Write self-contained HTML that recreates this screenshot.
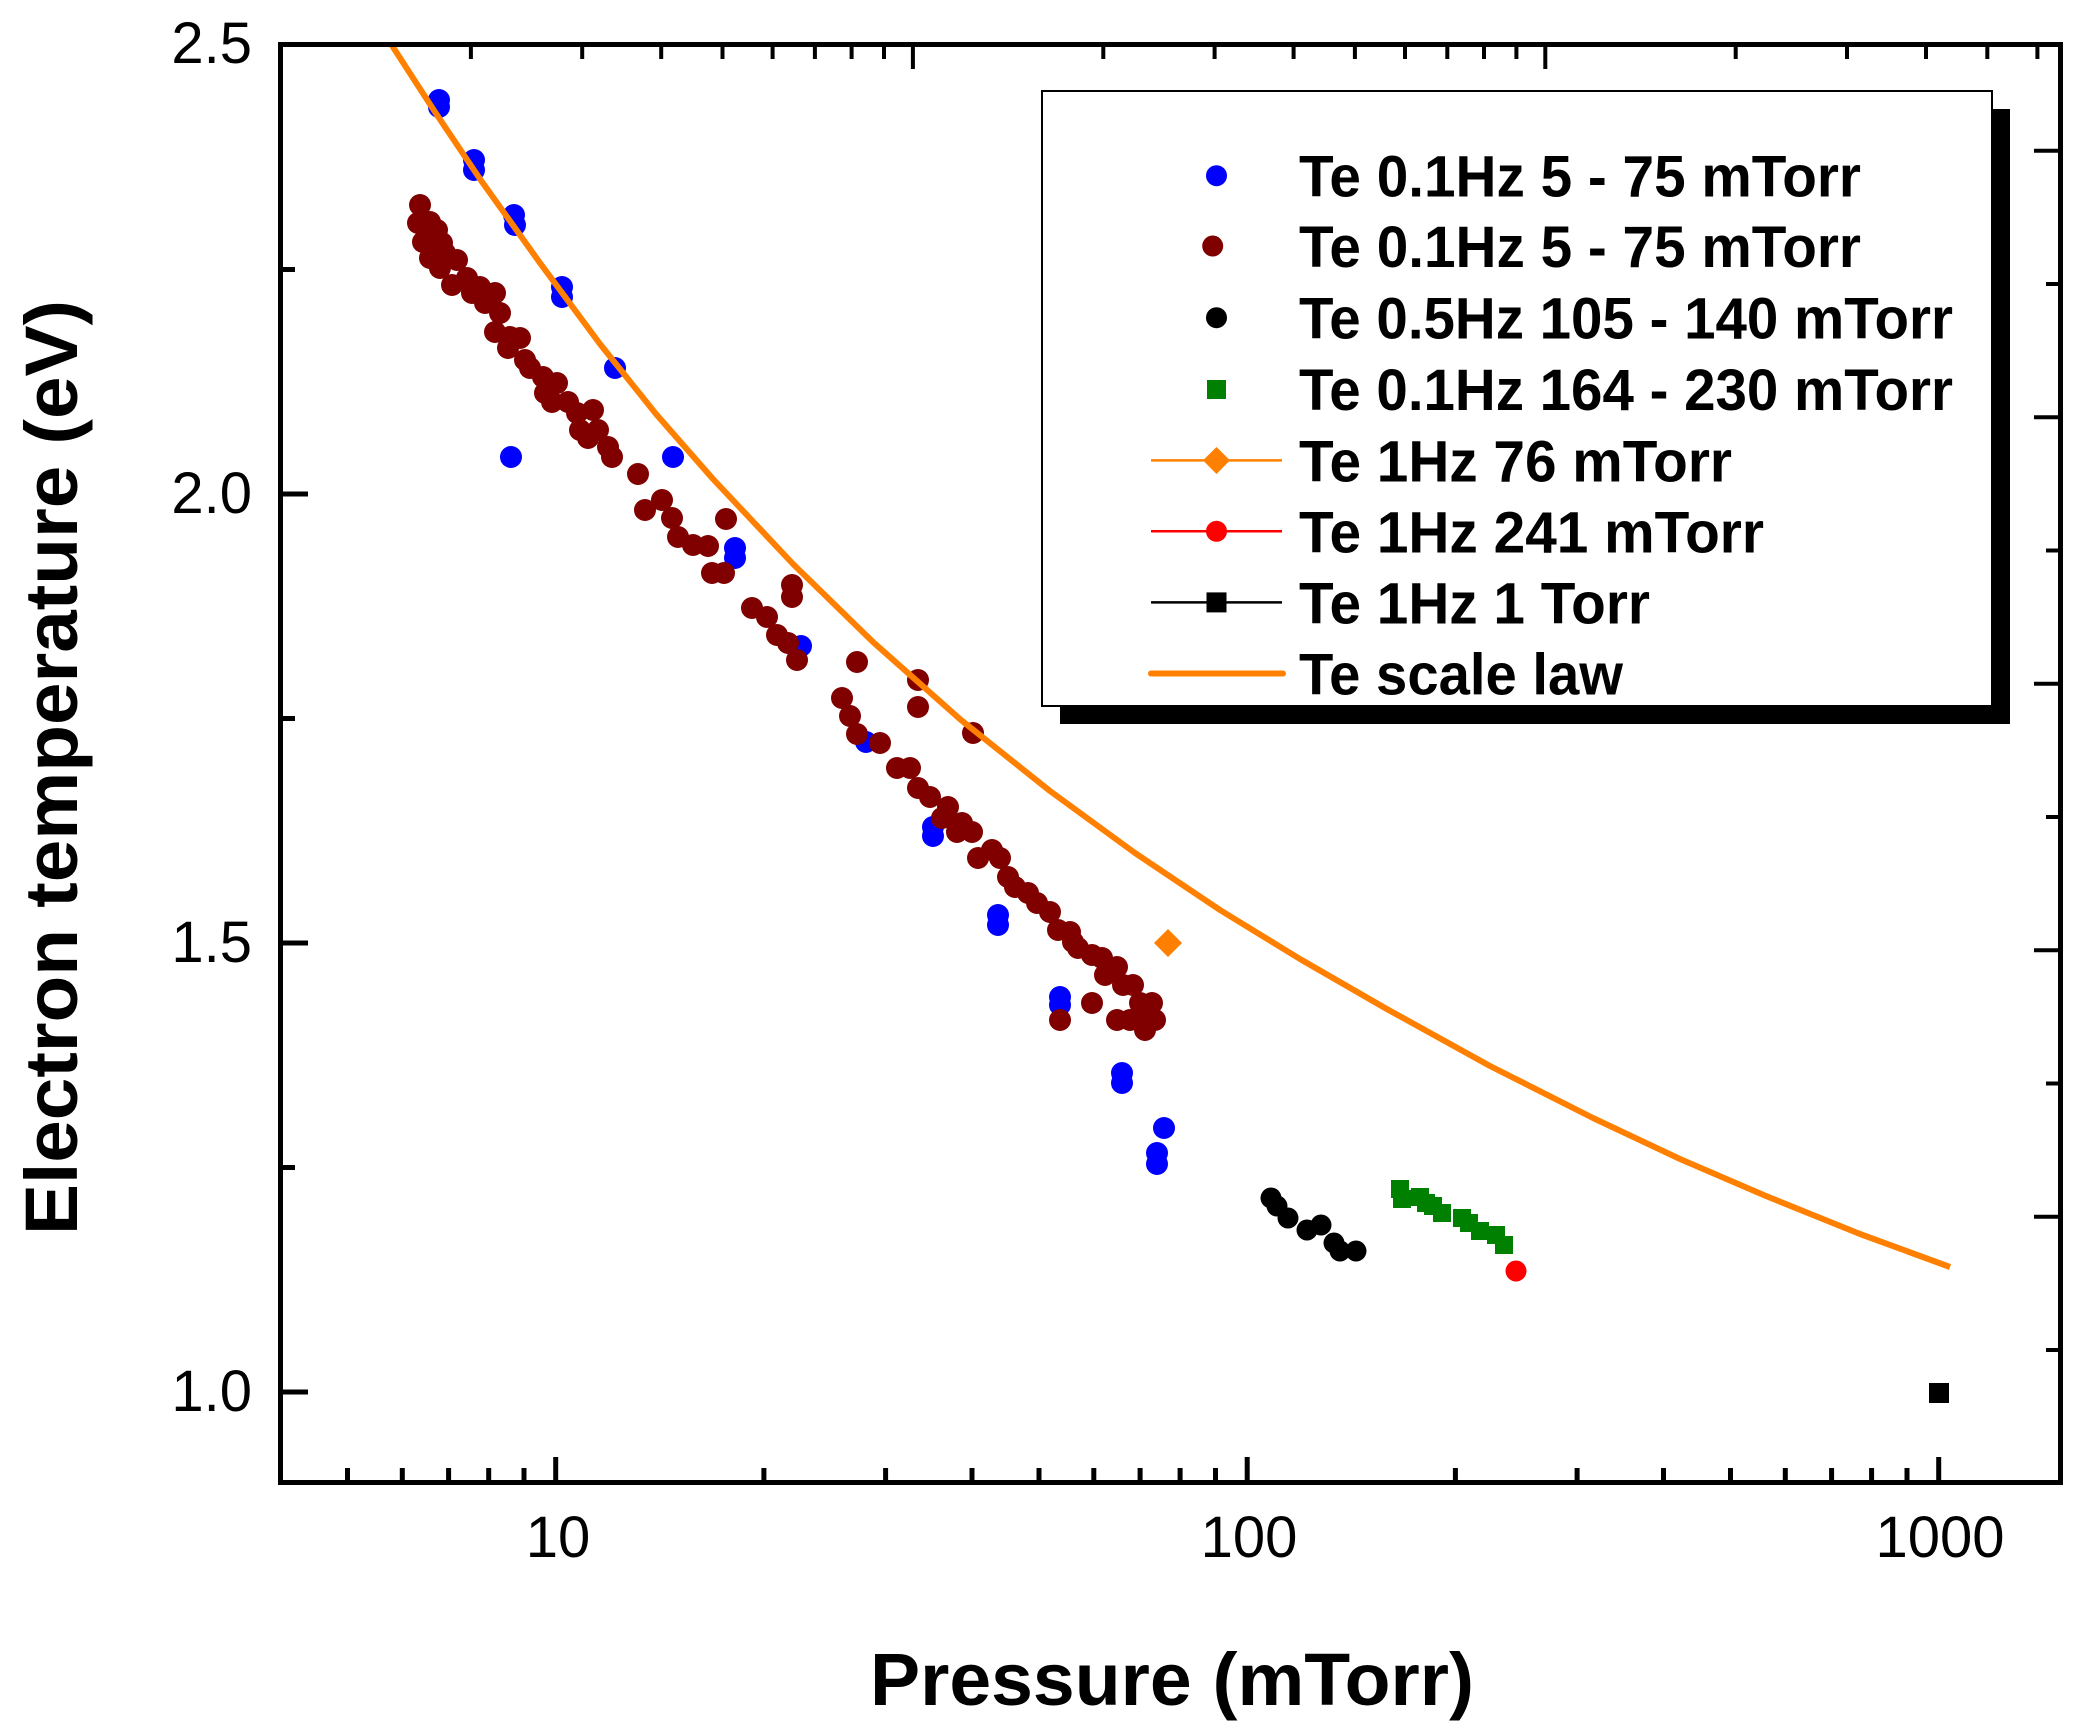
<!DOCTYPE html>
<html>
<head>
<meta charset="utf-8">
<style>
html,body{margin:0;padding:0;background:#fff;}
svg{display:block;}
text{font-family:"Liberation Sans",Arial,sans-serif;}
</style>
</head>
<body>
<svg width="2084" height="1735" viewBox="0 0 2084 1735" xmlns="http://www.w3.org/2000/svg">
<rect x="0" y="0" width="2084" height="1735" fill="#fff"/>

<!-- Blue points -->
<g fill="#0000FF">
<circle cx="439" cy="100" r="11"/><circle cx="439" cy="107" r="11"/>
<circle cx="474" cy="160" r="11"/><circle cx="474" cy="170" r="11"/>
<circle cx="514" cy="215" r="11"/><circle cx="515" cy="225" r="11"/>
<circle cx="562" cy="287" r="11"/><circle cx="562" cy="297" r="11"/>
<circle cx="615" cy="368" r="11"/>
<circle cx="511" cy="457" r="11"/>
<circle cx="673" cy="457" r="11"/>
<circle cx="735" cy="548" r="11"/><circle cx="735" cy="558" r="11"/>
<circle cx="801" cy="646" r="11"/>
<circle cx="866" cy="742" r="11"/>
<circle cx="933" cy="827" r="11"/><circle cx="933" cy="836" r="11"/>
<circle cx="998" cy="915" r="11"/><circle cx="998" cy="925" r="11"/>
<circle cx="1060" cy="997" r="11"/><circle cx="1060" cy="1005" r="11"/>
<circle cx="1122" cy="1073" r="11"/><circle cx="1122" cy="1083" r="11"/>
<circle cx="1157" cy="1153" r="11"/><circle cx="1157" cy="1164" r="11"/>
<circle cx="1164" cy="1128" r="11"/>
</g>

<!-- Dark red points -->
<g fill="#800000">
<circle cx="420" cy="205" r="11"/><circle cx="418" cy="223" r="11"/><circle cx="430" cy="222" r="11"/>
<circle cx="423" cy="242" r="11"/><circle cx="437" cy="230" r="11"/><circle cx="442" cy="243" r="11"/>
<circle cx="430" cy="258" r="11"/><circle cx="445" cy="253" r="11"/><circle cx="440" cy="268" r="11"/>
<circle cx="457" cy="260" r="11"/><circle cx="452" cy="285" r="11"/><circle cx="467" cy="278" r="11"/>
<circle cx="472" cy="293" r="11"/><circle cx="480" cy="287" r="11"/><circle cx="495" cy="293" r="11"/>
<circle cx="485" cy="303" r="11"/><circle cx="500" cy="313" r="11"/><circle cx="495" cy="332" r="11"/>
<circle cx="510" cy="337" r="11"/><circle cx="520" cy="338" r="11"/><circle cx="508" cy="348" r="11"/>
<circle cx="525" cy="360" r="11"/><circle cx="530" cy="368" r="11"/><circle cx="543" cy="377" r="11"/>
<circle cx="557" cy="383" r="11"/><circle cx="545" cy="393" r="11"/><circle cx="552" cy="402" r="11"/>
<circle cx="568" cy="402" r="11"/><circle cx="577" cy="413" r="11"/><circle cx="593" cy="410" r="11"/>
<circle cx="580" cy="430" r="11"/><circle cx="598" cy="430" r="11"/><circle cx="588" cy="438" r="11"/>
<circle cx="608" cy="447" r="11"/><circle cx="612" cy="457" r="11"/><circle cx="638" cy="474" r="11"/>
<circle cx="662" cy="500" r="11"/><circle cx="645" cy="510" r="11"/><circle cx="672" cy="518" r="11"/>
<circle cx="678" cy="537" r="11"/><circle cx="693" cy="545" r="11"/><circle cx="708" cy="546" r="11"/>
<circle cx="712" cy="573" r="11"/><circle cx="724" cy="573" r="11"/><circle cx="726" cy="519" r="11"/>
<circle cx="752" cy="608" r="11"/><circle cx="767" cy="617" r="11"/><circle cx="777" cy="635" r="11"/>
<circle cx="792" cy="585" r="11"/><circle cx="792" cy="597" r="11"/><circle cx="788" cy="643" r="11"/>
<circle cx="797" cy="660" r="11"/><circle cx="857" cy="662" r="11"/>
<circle cx="918" cy="680" r="11"/><circle cx="918" cy="707" r="11"/><circle cx="842" cy="698" r="11"/>
<circle cx="850" cy="716" r="11"/><circle cx="857" cy="734" r="11"/><circle cx="880" cy="743" r="11"/>
<circle cx="973" cy="733" r="11"/><circle cx="897" cy="768" r="11"/><circle cx="910" cy="768" r="11"/>
<circle cx="918" cy="788" r="11"/><circle cx="930" cy="797" r="11"/><circle cx="948" cy="807" r="11"/>
<circle cx="942" cy="818" r="11"/><circle cx="962" cy="823" r="11"/><circle cx="957" cy="832" r="11"/>
<circle cx="972" cy="832" r="11"/><circle cx="978" cy="858" r="11"/><circle cx="992" cy="850" r="11"/>
<circle cx="1000" cy="858" r="11"/><circle cx="1008" cy="877" r="11"/><circle cx="1015" cy="887" r="11"/>
<circle cx="1028" cy="893" r="11"/><circle cx="1037" cy="903" r="11"/><circle cx="1050" cy="912" r="11"/>
<circle cx="1058" cy="930" r="11"/><circle cx="1070" cy="932" r="11"/><circle cx="1073" cy="942" r="11"/>
<circle cx="1078" cy="948" r="11"/><circle cx="1092" cy="955" r="11"/><circle cx="1102" cy="958" r="11"/>
<circle cx="1105" cy="975" r="11"/><circle cx="1117" cy="967" r="11"/><circle cx="1123" cy="985" r="11"/>
<circle cx="1133" cy="985" r="11"/><circle cx="1092" cy="1003" r="11"/><circle cx="1060" cy="1020" r="11"/>
<circle cx="1117" cy="1020" r="11"/><circle cx="1140" cy="1003" r="11"/><circle cx="1152" cy="1003" r="11"/>
<circle cx="1155" cy="1020" r="11"/><circle cx="1145" cy="1030" r="11"/><circle cx="1147" cy="1013" r="11"/>
<circle cx="1130" cy="1020" r="11"/>
</g>

<!-- Black circles (0.5 Hz) -->
<g fill="#000">
<circle cx="1271" cy="1198" r="10.5"/><circle cx="1277" cy="1206" r="10.5"/><circle cx="1288" cy="1218" r="10.5"/>
<circle cx="1307" cy="1230" r="10.5"/><circle cx="1321" cy="1225" r="10.5"/><circle cx="1334" cy="1243" r="10.5"/>
<circle cx="1340" cy="1251" r="10.5"/><circle cx="1356" cy="1251" r="10.5"/>
</g>

<!-- Green squares -->
<g fill="#008000">
<rect x="1391" y="1180" width="18" height="18"/><rect x="1393" y="1190" width="18" height="18"/>
<rect x="1411" y="1188" width="18" height="18"/><rect x="1417" y="1194" width="18" height="18"/>
<rect x="1424" y="1197" width="18" height="18"/><rect x="1433" y="1204" width="18" height="18"/>
<rect x="1453" y="1209" width="18" height="18"/><rect x="1460" y="1214" width="18" height="18"/>
<rect x="1471" y="1222" width="18" height="18"/><rect x="1487" y="1226" width="18" height="18"/>
<rect x="1495" y="1236" width="18" height="18"/>
</g>

<!-- Red circle 241 mTorr -->
<circle cx="1516" cy="1271" r="10.5" fill="#FF0000"/>
<!-- Orange diamond 76 mTorr -->
<polygon points="1168,929 1182,943 1168,957 1154,943" fill="#FF8000"/>
<!-- Black square 1 Torr -->
<rect x="1929" y="1383" width="20" height="20" fill="#000"/>

<!-- Te scale law -->
<polyline fill="none" stroke="#FF8000" stroke-width="6" stroke-linejoin="round"
points="391,44 435,112 480,179 540,263 600,344 656,414 713,479 793,564 873,642 961,720 1050,791 1135,853 1220,910 1300,959 1385,1008 1490,1066 1593,1118 1680,1159 1766,1196 1860,1234 1950,1267"/>

<!-- Legend shadow and box -->
<rect x="1060" y="109" width="950" height="615" fill="#000"/>
<rect x="1042" y="91" width="950" height="615" fill="#fff" stroke="#000" stroke-width="2"/>

<!-- Legend symbols -->
<circle cx="1216.5" cy="175.7" r="10.5" fill="#0000FF"/>
<circle cx="1212.7" cy="246" r="10.5" fill="#800000"/>
<circle cx="1216.5" cy="317.7" r="10.5" fill="#000"/>
<rect x="1207" y="380" width="19" height="19" fill="#008000"/>
<line x1="1151" y1="460.4" x2="1282" y2="460.4" stroke="#FF8000" stroke-width="2.5"/>
<polygon points="1216.5,447 1230,460.4 1216.5,474 1203,460.4" fill="#FF8000"/>
<line x1="1151" y1="531.3" x2="1282" y2="531.3" stroke="#FF0000" stroke-width="2.5"/>
<circle cx="1216.5" cy="531.3" r="10.5" fill="#FF0000"/>
<line x1="1151" y1="602.4" x2="1282" y2="602.4" stroke="#000" stroke-width="2.5"/>
<rect x="1206.5" y="592.4" width="20" height="20" fill="#000"/>
<line x1="1151" y1="673.5" x2="1283" y2="673.5" stroke="#FF8000" stroke-width="6" stroke-linecap="round"/>

<!-- Legend text -->
<g font-weight="bold" font-size="58" fill="#000">
<text x="1299" y="196.7" textLength="562" lengthAdjust="spacingAndGlyphs">Te 0.1Hz 5 - 75 mTorr</text>
<text x="1299" y="267.2" textLength="562" lengthAdjust="spacingAndGlyphs">Te 0.1Hz 5 - 75 mTorr</text>
<text x="1299" y="338.6" textLength="654" lengthAdjust="spacingAndGlyphs">Te 0.5Hz 105 - 140 mTorr</text>
<text x="1299" y="410" textLength="654" lengthAdjust="spacingAndGlyphs">Te 0.1Hz 164 - 230 mTorr</text>
<text x="1299" y="481.4" textLength="433" lengthAdjust="spacingAndGlyphs">Te 1Hz 76 mTorr</text>
<text x="1299" y="552.3" textLength="465" lengthAdjust="spacingAndGlyphs">Te 1Hz 241 mTorr</text>
<text x="1299" y="623.4" textLength="351" lengthAdjust="spacingAndGlyphs">Te 1Hz 1 Torr</text>
<text x="1299" y="694.5" textLength="324" lengthAdjust="spacingAndGlyphs">Te scale law</text>
</g>

<!-- Ticks -->
<g stroke="#000" stroke-width="5" fill="none">
<!-- left -->
<line x1="283" y1="1392" x2="308" y2="1392"/>
<line x1="283" y1="943" x2="308" y2="943"/>
<line x1="283" y1="494" x2="308" y2="494"/>
<line x1="283" y1="1167.5" x2="295" y2="1167.5"/>
<line x1="283" y1="718.5" x2="295" y2="718.5"/>
<line x1="283" y1="269.5" x2="295" y2="269.5"/>
<!-- bottom majors -->
<line x1="555.7" y1="1480" x2="555.7" y2="1457"/>
<line x1="1247.2" y1="1480" x2="1247.2" y2="1457"/>
<line x1="1938.7" y1="1480" x2="1938.7" y2="1457"/>
<!-- bottom minors -->
<path d="M347.5 1480V1468 M402.3 1480V1468 M448.6 1480V1468 M488.7 1480V1468 M524 1480V1468
M763.9 1480V1468 M885.6 1480V1468 M972 1480V1468 M1039 1480V1468 M1093.8 1480V1468 M1140.1 1480V1468 M1180.1 1480V1468 M1215.5 1480V1468
M1455.4 1480V1468 M1577.1 1480V1468 M1663.5 1480V1468 M1730.5 1480V1468 M1785.3 1480V1468 M1831.6 1480V1468 M1871.6 1480V1468 M1907 1480V1468"/>
</g>
<g stroke="#000" stroke-width="4" fill="none">
<!-- top majors -->
<line x1="912.9" y1="47" x2="912.9" y2="69"/>
<line x1="1545.3" y1="47" x2="1545.3" y2="69"/>
<!-- top minors -->
<path d="M470.9 47V59 M582.2 47V59 M661.2 47V59 M722.5 47V59 M772.6 47V59 M814.9 47V59 M851.6 47V59 M884 47V59
M1103.3 47V59 M1214.6 47V59 M1293.6 47V59 M1354.9 47V59 M1405 47V59 M1447.3 47V59 M1484 47V59 M1516.4 47V59
M1735.7 47V59 M1847 47V59 M1926 47V59 M1987.3 47V59 M2037.4 47V59"/>
<!-- right -->
<path d="M2058 150.7H2034 M2058 417.2H2034 M2058 683.7H2034 M2058 950.2H2034 M2058 1216.7H2034
M2058 284H2046 M2058 550.5H2046 M2058 817H2046 M2058 1083.5H2046 M2058 1350H2046"/>
</g>

<!-- Axes frame -->
<rect x="280.5" y="44.5" width="1780" height="1438" fill="none" stroke="#000" stroke-width="5"/>

<!-- Tick labels -->
<g font-size="58" fill="#000">
<text x="252" y="63" text-anchor="end">2.5</text>
<text x="252" y="513" text-anchor="end">2.0</text>
<text x="252" y="962" text-anchor="end">1.5</text>
<text x="252" y="1411" text-anchor="end">1.0</text>
<text x="558" y="1557" text-anchor="middle">10</text>
<text x="1249" y="1557" text-anchor="middle">100</text>
<text x="1940" y="1557" text-anchor="middle">1000</text>
</g>

<!-- Axis titles -->
<text x="870" y="1705" font-size="74" font-weight="bold" textLength="604" lengthAdjust="spacingAndGlyphs">Pressure (mTorr)</text>
<text transform="translate(77,1235) rotate(-90)" x="0" y="0" font-size="74" font-weight="bold" textLength="935" lengthAdjust="spacingAndGlyphs">Electron temperature (eV)</text>
</svg>
</body>
</html>
